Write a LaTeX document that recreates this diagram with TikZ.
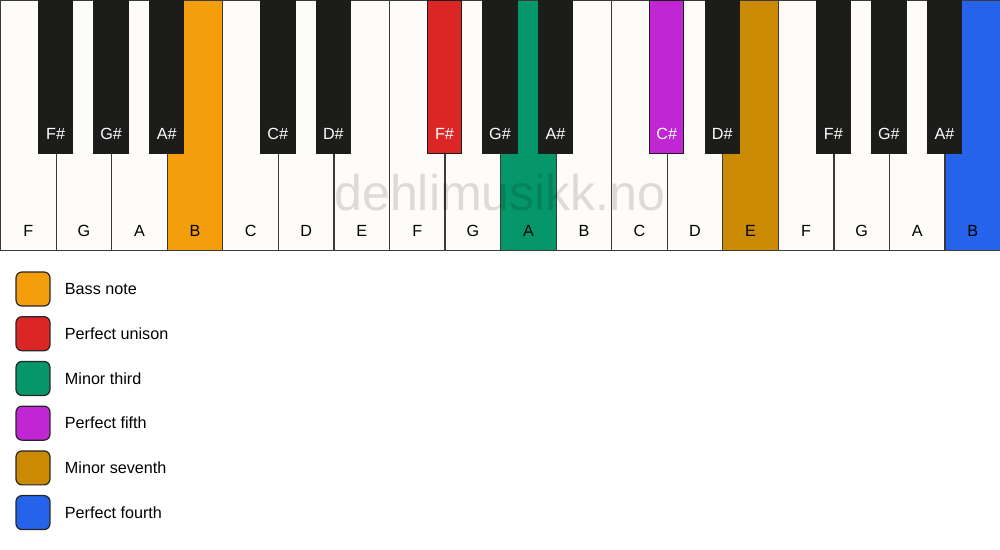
\documentclass[tikz,border=0pt]{standalone}
\usepackage{fontspec}
\setmainfont{Liberation Sans}
\usetikzlibrary{positioning}

\definecolor{ivory}{HTML}{FDFCF8}
\definecolor{ebony}{HTML}{1C1C1B}
\definecolor{keyline}{HTML}{3A3A3A}
\definecolor{bass}{HTML}{F59E0B}
\definecolor{unison}{HTML}{DC2626}
\definecolor{minthird}{HTML}{059669}
\definecolor{pfifth}{HTML}{C026D3}
\definecolor{minseventh}{HTML}{CA8A04}
\definecolor{pfourth}{HTML}{2563EB}

\tikzset{
  whitekey/.style={draw=keyline,line width=0.7pt,fill=ivory,minimum width=1.111cm,minimum height=5cm,inner sep=0pt,anchor=north west},
  blackkey/.style={draw=ebony,line width=0.5pt,fill=ebony,minimum width=0.69cm,minimum height=3.06cm,inner sep=0pt,anchor=north},
  keytext/.style={inner sep=0pt,font=\fontsize{9.2}{11}\selectfont},
  legendbox/.style={draw=black!85,line width=0.7pt,rounded corners=3.4pt,minimum size=0.68cm,inner sep=0pt},
  legendtext/.style={inner sep=0pt,anchor=west,font=\fontsize{9.2}{11}\selectfont}
}

\begin{document}
\begin{tikzpicture}[x=0.02cm,y=-0.02cm]
\useasboundingbox (0,0) rectangle (1000,550);

% white keys
\foreach \n/\c [count=\i from 0] in {F/ivory,G/ivory,A/ivory,B/bass,C/ivory,D/ivory,E/ivory,
    F/ivory,G/ivory,A/minthird,B/ivory,C/ivory,D/ivory,E/minseventh,F/ivory,G/ivory,A/ivory,B/pfourth}
{
  \node[whitekey,fill=\c] (w\i) at (\i*55.556,0) {};
  \node[keytext] at ([yshift=0.4cm]w\i.south) {\n};
}

% black keys
\foreach \k/\n/\c in {1/F\#/ebony,2/G\#/ebony,3/A\#/ebony,5/C\#/ebony,6/D\#/ebony,
    8/F\#/unison,9/G\#/ebony,10/A\#/ebony,12/C\#/pfifth,13/D\#/ebony,
    15/F\#/ebony,16/G\#/ebony,17/A\#/ebony}
{
  \node[blackkey,fill=\c] (b\k) at (\k*55.556,0) {};
  \node[keytext,text=white] at ([yshift=0.4cm]b\k.south) {\n};
}

% watermark
\node[text=black,text opacity=0.13,font=\fontsize{28.5}{31}\selectfont] (mark) at (500,193) {dehlimusikk.no};

% legend
\node[legendbox,fill=bass] (l1) at (33,289) {};
\node[legendbox,fill=unison,below=0.19cm of l1] (l2) {};
\node[legendbox,fill=minthird,below=0.19cm of l2] (l3) {};
\node[legendbox,fill=pfifth,below=0.19cm of l3] (l4) {};
\node[legendbox,fill=minseventh,below=0.19cm of l4] (l5) {};
\node[legendbox,fill=pfourth,below=0.19cm of l5] (l6) {};

\node[legendtext,right=0.28cm of l1] {Bass note};
\node[legendtext,right=0.28cm of l2] {Perfect unison};
\node[legendtext,right=0.28cm of l3] {Minor third};
\node[legendtext,right=0.28cm of l4] {Perfect fifth};
\node[legendtext,right=0.28cm of l5] {Minor seventh};
\node[legendtext,right=0.28cm of l6] {Perfect fourth};
\end{tikzpicture}
\end{document}
